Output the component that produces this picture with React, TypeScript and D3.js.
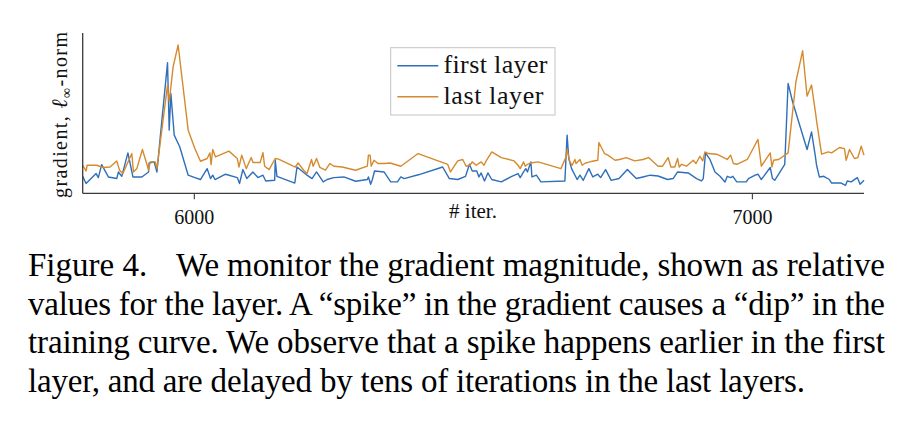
import React from 'react';
import * as d3 from 'd3';

// iteration numbers and relative gradient magnitude (l-inf norm), first layer
const iterFirst = [
  5800, 5806, 5824, 5828, 5834, 5846, 5861, 5864, 5870, 5881,
  5885, 5890, 5906, 5918, 5919, 5928, 5933, 5939, 5952, 5955,
  5958, 5964, 5974, 5989, 6001, 6011, 6023, 6029, 6033, 6037,
  6056, 6077, 6081, 6087, 6094, 6105, 6114, 6123, 6128, 6144,
  6145, 6148, 6180, 6184, 6202, 6211, 6219, 6231, 6238, 6250,
  6268, 6289, 6310, 6312, 6316, 6319, 6323, 6340, 6352, 6364,
  6370, 6376, 6403, 6445, 6457, 6472, 6486, 6493, 6498, 6506,
  6510, 6514, 6520, 6526, 6533, 6550, 6567, 6580, 6584, 6590,
  6594, 6597, 6603, 6605, 6613, 6621, 6664, 6668, 6671, 6676,
  6686, 6691, 6697, 6707, 6714, 6723, 6728, 6737, 6747, 6761,
  6776, 6792, 6804, 6817, 6831, 6848, 6858, 6866, 6885, 6900,
  6909, 6912, 6916, 6924, 6933, 6942, 6951, 6955, 6961, 6965,
  6972, 6989, 6993, 7005, 7010, 7016, 7032, 7036, 7040, 7058,
  7064, 7072, 7098, 7106, 7113, 7115, 7120, 7128, 7138, 7142,
  7159, 7167, 7170, 7177, 7188, 7193, 7200,
];
const gradFirst = [
  0.106, 0.061, 0.123, 0.098, 0.179, 0.102, 0.092, 0.133, 0.106, 0.252,
  0.186, 0.102, 0.102, 0.133, 0.189, 0.196, 0.133, 0.352, 0.814, 0.394,
  0.623, 0.363, 0.289, 0.113, 0.098, 0.086, 0.154, 0.092, 0.113, 0.086,
  0.119, 0.098, 0.061, 0.148, 0.092, 0.133, 0.098, 0.113, 0.077, 0.081,
  0.206, 0.106, 0.064, 0.164, 0.113, 0.092, 0.133, 0.071, 0.086, 0.098,
  0.102, 0.075, 0.086, 0.102, 0.056, 0.086, 0.139, 0.133, 0.071, 0.071,
  0.102, 0.092, 0.117, 0.164, 0.092, 0.086, 0.106, 0.181, 0.139, 0.139,
  0.102, 0.127, 0.077, 0.127, 0.086, 0.071, 0.102, 0.123, 0.098, 0.133,
  0.154, 0.133, 0.196, 0.102, 0.113, 0.071, 0.077, 0.363, 0.217, 0.154,
  0.086, 0.113, 0.081, 0.154, 0.102, 0.119, 0.098, 0.148, 0.081, 0.092,
  0.148, 0.092, 0.102, 0.113, 0.108, 0.086, 0.092, 0.133, 0.127, 0.092,
  0.077, 0.092, 0.252, 0.211, 0.133, 0.106, 0.071, 0.106, 0.098, 0.106,
  0.071, 0.071, 0.092, 0.113, 0.119, 0.086, 0.161, 0.092, 0.081, 0.181,
  0.686, 0.571, 0.273, 0.383, 0.227, 0.175, 0.102, 0.106, 0.086, 0.064,
  0.064, 0.05, 0.077, 0.071, 0.098, 0.056, 0.081,
];

// last layer
const iterLast = [
  5800, 5806, 5808, 5825, 5837, 5849, 5861, 5866, 5872, 5888,
  5891, 5897, 5907, 5915, 5918, 5921, 5930, 5933, 5952, 5955,
  5962, 5971, 5989, 6001, 6011, 6023, 6028, 6030, 6033, 6038,
  6062, 6077, 6080, 6085, 6093, 6102, 6105, 6118, 6123, 6126,
  6134, 6145, 6151, 6181, 6186, 6196, 6202, 6210, 6213, 6219,
  6225, 6235, 6243, 6250, 6265, 6289, 6310, 6312, 6315, 6317,
  6322, 6329, 6340, 6351, 6370, 6401, 6454, 6459, 6472, 6481,
  6487, 6494, 6498, 6505, 6514, 6519, 6523, 6533, 6550, 6573,
  6580, 6584, 6590, 6593, 6597, 6603, 6616, 6657, 6666, 6668,
  6673, 6677, 6682, 6684, 6691, 6695, 6701, 6709, 6713, 6723,
  6725, 6735, 6741, 6754, 6762, 6774, 6789, 6804, 6814, 6831,
  6839, 6849, 6854, 6861, 6866, 6869, 6873, 6882, 6894, 6899,
  6906, 6911, 6915, 6921, 6936, 6955, 6961, 6966, 6972, 6991,
  6999, 7010, 7016, 7023, 7032, 7035, 7038, 7047, 7064, 7078,
  7090, 7098, 7106, 7114, 7115, 7124, 7136, 7142, 7156, 7165,
  7168, 7174, 7183, 7189, 7195, 7200,
];
const gradLast = [
  0.175, 0.139, 0.175, 0.175, 0.161, 0.164, 0.202, 0.144, 0.123, 0.248,
  0.133, 0.154, 0.273, 0.181, 0.144, 0.196, 0.196, 0.154, 0.675, 0.571,
  0.789, 0.925, 0.394, 0.279, 0.2, 0.217, 0.252, 0.179, 0.273, 0.227,
  0.263, 0.217, 0.164, 0.238, 0.154, 0.223, 0.192, 0.192, 0.254, 0.169,
  0.148, 0.217, 0.213, 0.164, 0.189, 0.144, 0.123, 0.211, 0.169, 0.217,
  0.161, 0.144, 0.186, 0.169, 0.164, 0.144, 0.169, 0.238, 0.238, 0.169,
  0.206, 0.186, 0.186, 0.189, 0.169, 0.248, 0.181, 0.133, 0.202, 0.211,
  0.169, 0.175, 0.196, 0.175, 0.196, 0.175, 0.202, 0.258, 0.223, 0.202,
  0.175, 0.154, 0.196, 0.169, 0.181, 0.189, 0.196, 0.154, 0.227, 0.273,
  0.196, 0.175, 0.211, 0.186, 0.211, 0.175, 0.189, 0.196, 0.2, 0.206,
  0.317, 0.248, 0.238, 0.206, 0.211, 0.223, 0.202, 0.211, 0.223, 0.169,
  0.169, 0.223, 0.164, 0.164, 0.217, 0.164, 0.181, 0.169, 0.206, 0.186,
  0.231, 0.202, 0.258, 0.248, 0.244, 0.211, 0.238, 0.186, 0.181, 0.211,
  0.264, 0.336, 0.169, 0.206, 0.252, 0.164, 0.206, 0.211, 0.252, 0.696,
  0.889, 0.606, 0.675, 0.481, 0.452, 0.244, 0.258, 0.252, 0.286, 0.279,
  0.206, 0.273, 0.217, 0.223, 0.294, 0.238,
];

const xTicks = [6000, 7000];
const seriesNames = ['first layer', 'last layer'];
const xLabel = '# iter.';
const captionHead = 'Figure 4.';
const captionLines = [
  'We monitor the gradient magnitude, shown as relative',
  'values for the layer. A \u201cspike\u201d in the gradient causes a \u201cdip\u201d in the',
  'training curve. We observe that a spike happens earlier in the first',
  'layer, and are delayed by tens of iterations in the last layers.',
];

const BLUE = '#2f6fba';
const ORANGE = '#d68a2e';
const AXIS = '#3a3a3a';
const SERIF = "'Liberation Serif', 'Times New Roman', serif";

export default function App() {
  const W = 912;
  const H = 424;
  const left = 82.7;
  const right = 864;
  const top = 33;
  const bottom = 193.3;

  const x = d3.scaleLinear().domain([5800, 7200]).range([left, right]);
  const y = d3.scaleLinear().domain([0, 1]).range([bottom, top]);

  const line = d3
    .line<[number, number]>()
    .x((d) => x(d[0]))
    .y((d) => y(d[1]));

  const firstPts: [number, number][] = iterFirst.map((t, i) => [t, gradFirst[i]]);
  const lastPts: [number, number][] = iterLast.map((t, i) => [t, gradLast[i]]);

  const colors = [BLUE, ORANGE];

  // legend
  const lgX = 390.7;
  const lgY = 47.7;
  const lgW = 164.3;
  const lgH = 67.3;
  const rowY = [65.7, 96.7];

  const captionX = 28;
  const captionRight = 885;
  const baselines = [276, 314.5, 353, 391.5];
  const captionWidths = [captionRight - 176, captionRight - captionX, captionRight - captionX, 805 - captionX];

  return (
    <svg
      width={W}
      height={H}
      viewBox={`0 0 ${W} ${H}`}
      style={{ position: 'absolute', left: 0, top: 0, background: '#fff' }}
      fontFamily={SERIF}
    >
      <rect x={0} y={0} width={W} height={H} fill="#fff" />

      {/* series */}
      <path d={line(firstPts) || ''} fill="none" stroke={BLUE} strokeWidth={1.4} strokeLinejoin="round" />
      <path d={line(lastPts) || ''} fill="none" stroke={ORANGE} strokeWidth={1.4} strokeLinejoin="round" />

      {/* axes */}
      <line x1={left} y1={top} x2={left} y2={bottom} stroke={AXIS} strokeWidth={1.3} />
      <line x1={left} y1={bottom} x2={right} y2={bottom} stroke={AXIS} strokeWidth={1.3} />
      {xTicks.map((t) => (
        <g key={t}>
          <line x1={x(t)} y1={bottom} x2={x(t)} y2={bottom + 6} stroke={AXIS} strokeWidth={1.1} />
          <text x={x(t)} y={224} textAnchor="middle" fontSize={20} fill="#111">
            {t}
          </text>
        </g>
      ))}
      <text x={473} y={218} textAnchor="middle" fontSize={21} fill="#111">
        {xLabel}
      </text>

      {/* y label */}
      <text
        transform={`translate(67, 115) rotate(-90)`}
        textAnchor="middle"
        fontSize={20}
        fill="#111"
        textLength={166}
        lengthAdjust="spacing"
      >
        gradient,{' '}
        <tspan fontStyle="italic" fontSize={22}>{'\u2113'}</tspan>
        <tspan fontSize={14} dy={4}>{'\u221e'}</tspan>
        <tspan dy={-4}>-norm</tspan>
      </text>

      {/* legend */}
      <rect x={lgX} y={lgY} width={lgW} height={lgH} fill="#fff" stroke="#c4c4c4" strokeWidth={1} />
      {seriesNames.map((name, i) => (
        <g key={name}>
          <line x1={397.3} y1={rowY[i]} x2={438.3} y2={rowY[i]} stroke={colors[i]} strokeWidth={1.4} />
          <text x={443.5} y={rowY[i] + 7.5} fontSize={26} fill="#111" textLength={i === 0 ? 104 : 100} lengthAdjust="spacing">
            {name}
          </text>
        </g>
      ))}

      {/* caption */}
      <text x={captionX} y={baselines[0]} fontSize={33} fill="#000">
        {captionHead}
      </text>
      {captionLines.map((ln, i) => (
        <text
          key={i}
          x={i === 0 ? 176 : captionX}
          y={baselines[i]}
          fontSize={33}
          fill="#000"
          textLength={captionWidths[i]}
          lengthAdjust="spacing"
        >
          {ln}
        </text>
      ))}
    </svg>
  );
}
